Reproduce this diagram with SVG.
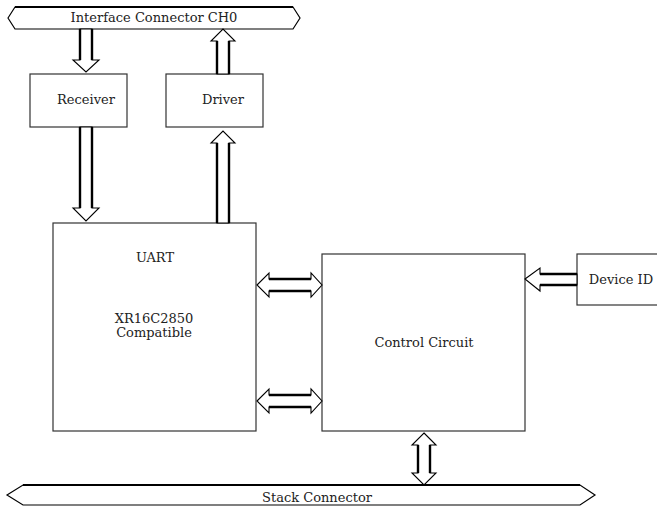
<svg xmlns="http://www.w3.org/2000/svg" width="657" height="506" viewBox="0 0 657 506">
<style>
.box{fill:#fff;stroke:#333;stroke-width:1.2}
.bus{fill:#fff;stroke:#000;stroke-width:1.2}
.busTop{stroke:#000;stroke-width:2.2;fill:none}
.arr{fill:#fff;stroke:#000;stroke-width:1.1;stroke-linejoin:miter}
.sh{stroke:#000;stroke-width:2.4;fill:none}
text{font-family:"DejaVu Serif","Liberation Serif",serif;font-size:13px;fill:#222;text-anchor:middle}
</style>
<rect width="657" height="506" fill="#fff"/>
<g id="interface-connector">
<polygon class="bus" points="8,18 15,7 293,7 300,18 293,29 15,29"/>
<line class="busTop" x1="15" y1="7" x2="293" y2="7"/>
<text x="154" y="22">Interface Connector CH0</text>
</g>
<g id="receiver">
<rect class="box" x="30" y="74" width="97" height="53"/>
<text x="86" y="104">Receiver</text>
</g>
<g id="driver">
<rect class="box" x="166" y="74" width="97" height="53"/>
<text x="223" y="104">Driver</text>
</g>
<g id="uart">
<rect class="box" x="53" y="223" width="203" height="208"/>
<text x="155" y="262">UART</text>
<text x="154" y="323">XR16C2850</text>
<text x="154" y="337">Compatible</text>
</g>
<g id="control-circuit">
<rect class="box" x="322" y="254" width="203" height="177"/>
<text x="424" y="347">Control Circuit</text>
</g>
<g id="device-id">
<rect class="box" x="577" y="254" width="90" height="51"/>
<text x="621" y="284">Device ID</text>
</g>
<g id="stack-connector">
<polygon class="bus" points="7,495 23,485 580,485 595,495 580,505 23,505"/>
<line class="busTop" x1="23" y1="485" x2="580" y2="485"/>
<text x="317" y="502">Stack Connector</text>
</g>
<g id="connectors">
<!-- Interface -> Receiver -->
<polygon class="arr" points="80,29 92,29 92,60 99,60 86,72 73,60 80,60"/>
<path class="sh" d="M80,29V60M92,29V60"/>
<!-- Driver -> Interface -->
<polygon class="arr" points="217,74 229,74 229,41 235,41 223,29 211,41 217,41"/>
<path class="sh" d="M217,74V41M229,74V41"/>
<!-- Receiver -> UART -->
<polygon class="arr" points="80,127 92,127 92,208 99,208 86,221 73,208 80,208"/>
<path class="sh" d="M80,127V208M92,127V208"/>
<!-- UART -> Driver -->
<polygon class="arr" points="217,223 229,223 229,143 235,143 223,131 211,143 217,143"/>
<path class="sh" d="M217,223V143M229,223V143"/>
<!-- UART <-> Control (upper) -->
<polygon class="arr" points="257,285 269,273 269,279 311,279 311,273 322,285 311,297 311,291 269,291 269,297"/>
<path class="sh" d="M269,279H311M269,291H311"/>
<!-- UART <-> Control (lower) -->
<polygon class="arr" points="257,401 269,389 269,395 311,395 311,389 322,401 311,413 311,407 269,407 269,413"/>
<path class="sh" d="M269,395H311M269,407H311"/>
<!-- Device ID -> Control -->
<polygon class="arr" points="525,279 540,268 540,274 577,274 577,285 540,285 540,291"/>
<path class="sh" d="M540,274H577M540,285H577"/>
<!-- Control <-> Stack -->
<polygon class="arr" points="424,433 436,445 430,445 430,473 436,473 424,485 412,473 418,473 418,445 412,445"/>
<path class="sh" d="M418,445V473M430,445V473"/>
</g>
</svg>
